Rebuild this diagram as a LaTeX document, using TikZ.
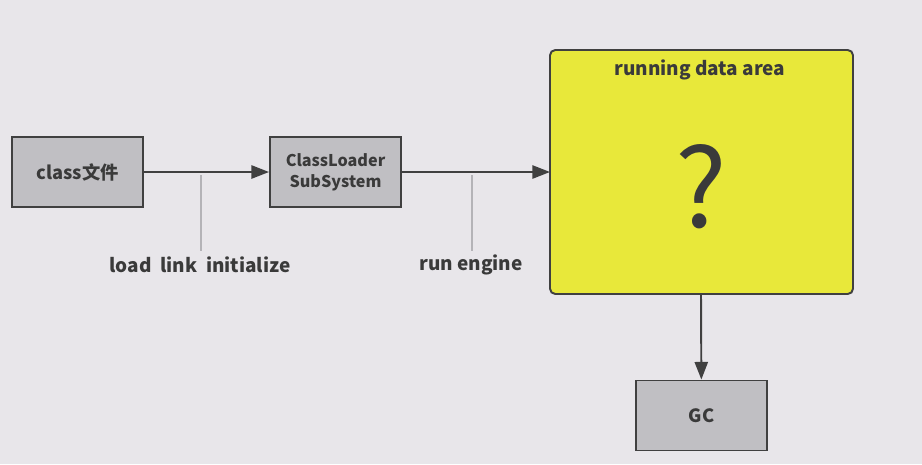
\documentclass[tikz,border=0pt]{standalone}
\usepackage{fontspec}
\setmainfont{Noto Sans CJK SC}
\usetikzlibrary{arrows.meta,positioning}

\definecolor{bgcol}{HTML}{E8E6EA}
\definecolor{boxgray}{HTML}{C0BFC3}
\definecolor{areayellow}{HTML}{E8E83A}
\definecolor{linecol}{HTML}{404040}
\definecolor{textcol}{HTML}{3A3A3A}
\definecolor{tickcol}{HTML}{B4B3B7}

\tikzset{
  graybox/.style={draw=linecol, line width=1.1pt, fill=boxgray,
    minimum width=131*0.02cm, minimum height=70*0.02cm,
    font=\fontsize{10.4}{12}\selectfont\bfseries, text=textcol, align=center},
  flow/.style={draw=linecol, line width=1.1pt, -{Triangle[length=10pt,width=7.5pt]}},
  tick/.style={draw=tickcol, line width=0.8pt},
  steplabel/.style={font=\fontsize{10.8}{13}\selectfont\bfseries, text=textcol}
}

\begin{document}
\begin{tikzpicture}[x=0.02cm,y=-0.02cm]
    % background and page size
    \fill[bgcol] (0,0) rectangle (922,464);
    \useasboundingbox (0,0) rectangle (922,464);

    % boxes on the main line
    \node[graybox] (classfile) at (77.5,172) {class文件};
    \node[graybox, font=\fontsize{9.2}{12}\selectfont\bfseries] (loader) at (335.5,172) {ClassLoader\\SubSystem};

    % running data area
    \draw[linecol, line width=1.1pt, fill=areayellow, rounded corners=3pt] (550,50) rectangle (853,294);
    \node[font=\fontsize{10.8}{13}\selectfont\bfseries, text=textcol] (areatitle) at (700,70) {running data area};
    \node[font=\fontsize{62}{70}\selectfont, text=textcol] (question) at (701,187) {?};
    \coordinate (areawest) at (550,172);
    \coordinate (areasouth) at (701,294);

    % GC
    \node[graybox] (gc) at (701.5,415.5) {GC};

    % arrows
    \draw[flow] (classfile) -- (loader);
    \draw[flow] (loader) -- (areawest);
    \draw[flow] (areasouth) -- (gc);

    % step labels
    \node[steplabel] (loadlink) at (200,265) {load\ \ link\ \ initialize};
    \node[steplabel] (runengine) at (471,265) {run engine};
    \coordinate (tickA) at (201,175);
    \coordinate (tickB) at (472,175);
    \draw[tick] (tickA) -- (tickA |- 0,251);
    \draw[tick] (tickB) -- (tickB |- 0,251);
\end{tikzpicture}
\end{document}
